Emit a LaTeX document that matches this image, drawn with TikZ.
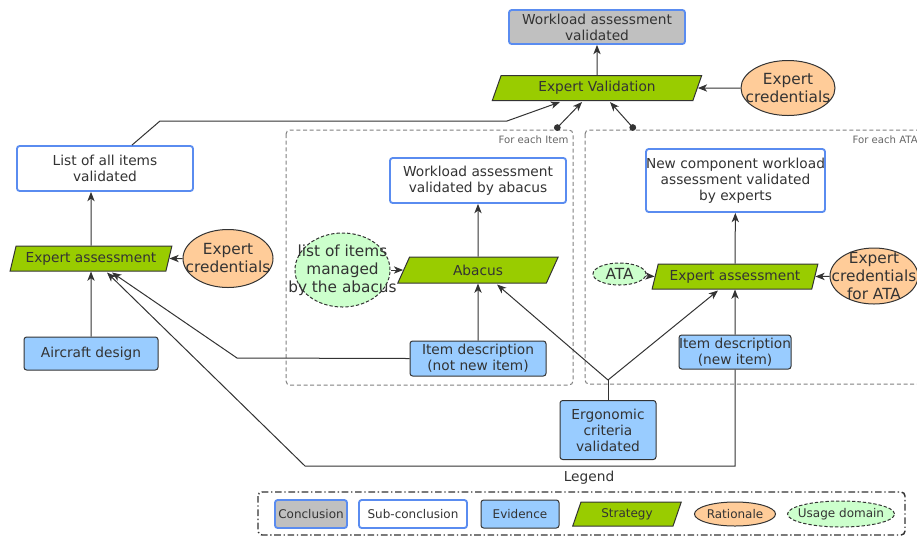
\documentclass[tikz,border=0pt]{standalone}
\usepackage{fontspec}
\setmainfont{DejaVu Sans}
\usetikzlibrary{shapes.geometric,arrows.meta,calc}
\definecolor{conclgray}{HTML}{C0C0C0}
\definecolor{bordblue}{HTML}{5A8CF0}
\definecolor{evidblue}{HTML}{99CCFF}
\definecolor{stratgreen}{HTML}{99CC00}
\definecolor{ratorange}{HTML}{FFCC99}
\definecolor{domgreen}{HTML}{CCFFCC}
\definecolor{inkgray}{HTML}{333333}

\begin{document}
\begin{tikzpicture}[x=0.75pt,y=-0.75pt,
  every node/.style={font=\fontsize{10.3}{12}\selectfont, text=inkgray, align=center},
  concl/.style={draw=bordblue, line width=1.4pt, fill=conclgray, rounded corners=2pt, inner sep=0pt},
  subconcl/.style={draw=bordblue, line width=1.4pt, fill=white, rounded corners=2pt, inner sep=0pt},
  evid/.style={draw=inkgray, line width=0.75pt, fill=evidblue, rounded corners=2pt, inner sep=0pt},
  strat/.style={trapezium, trapezium left angle=68, trapezium right angle=112, trapezium stretches=true,
    draw=inkgray, line width=0.75pt, fill=stratgreen, inner sep=0pt},
  rat/.style={ellipse, draw=inkgray, line width=0.75pt, fill=ratorange, inner sep=0pt},
  usedom/.style={ellipse, draw=inkgray, dash pattern=on 2.5pt off 1.5pt, line width=0.75pt, fill=domgreen, inner sep=0pt},
  rattext/.style={font=\fontsize{11.5}{13.5}\selectfont},
  legendtext/.style={font=\fontsize{9}{11}\selectfont},
  grouplbl/.style={font=\fontsize{7.6}{9}\selectfont, text=gray!80!black, inner sep=1pt},
  group/.style={draw=gray, dash pattern=on 3pt off 2pt, line width=0.75pt, rounded corners=3pt},
  arr/.style={draw=inkgray, line width=0.75pt, -{Stealth[length=7pt,width=5.5pt,inset=2pt]}},
  link/.style={draw=inkgray, line width=0.75pt},
  dotarr/.style={draw=inkgray, line width=0.75pt, {Circle[length=5pt]}-{Stealth[length=7pt,width=5.5pt,inset=2pt]}},
]
\useasboundingbox (0,0) rectangle (917,537);
\clip (0,0) rectangle (917,537);

% groups
\draw[group] (286,130) rectangle (573,385);
\node[grouplbl, anchor=north east] (itemlbl) at (570,134) {For each Item};
\draw[group] (585,130) rectangle (930,384);
\node[grouplbl, anchor=north west] (atalbl) at (851,134) {For each ATA};

% top
\node[concl, minimum width=132pt, minimum height=25.5pt] (concl) at (597,27) {Workload assessment\\validated};
\node[strat, minimum width=157.5pt, minimum height=18.75pt] (expval) at (597,88) {Expert Validation};
\node[rat, minimum width=70.5pt, minimum height=41.25pt,
  label={[rattext]center:Expert\\credentials}] (credval) at (788,88) {};

% left branch
\node[subconcl, minimum width=132pt, minimum height=33.75pt] (allitems) at (105,168.5) {List of all items\\validated};
\node[strat, minimum width=121.5pt, minimum height=18.75pt] (expitem) at (91,258.5) {Expert assessment};
\node[rat, minimum width=67.5pt, minimum height=43.5pt,
  label={[rattext]center:Expert\\credentials}] (creditem) at (228,258.5) {};
\node[evid, minimum width=100.5pt, minimum height=24.75pt] (aircraft) at (91,353.5) {Aircraft design};

% for each item
\node[subconcl, minimum width=132pt, minimum height=33.75pt] (abacusok) at (478,180.5) {Workload assessment\\validated by abacus};
\node[strat, minimum width=120.75pt, minimum height=19.5pt] (abacus) at (478,270) {Abacus};
\node[usedom, minimum width=71.25pt, minimum height=55.5pt,
  label={[rattext]center:list of items\\managed\\by the abacus}] (itemlist) at (342.5,270) {};
\node[evid, minimum width=102pt, minimum height=26.25pt] (itemold) at (478,358.5) {Item description\\(not new item)};

% for each ATA
\node[subconcl, minimum width=131.25pt, minimum height=47.25pt] (ataok) at (735.5,180.5) {New component workload\\assessment validated\\by experts};
\node[strat, minimum width=124.5pt, minimum height=18.75pt] (expata) at (735,276.5) {Expert assessment};
\node[usedom, minimum width=39.75pt, minimum height=16.5pt,
  label={[rattext]center:ATA}] (ata) at (619.5,274) {};
\node[rat, minimum width=66pt, minimum height=42pt,
  label={[rattext]center:Expert\\credentials\\for ATA}] (credata) at (874,276) {};
\node[evid, minimum width=82.5pt, minimum height=25.5pt] (itemnew) at (735,352) {Item description\\(new item)};

\node[evid, minimum width=72pt, minimum height=44.25pt] (ergo) at (608,430) {Ergonomic\\criteria\\validated};

% bends
\coordinate (bendA) at (160,121);
\coordinate (bendB) at (507,121);
\coordinate (dotItem) at (555,130);
\coordinate (dotAta) at (635,130);
\coordinate (bendC) at (237,358);
\coordinate (bendD) at (735,466);
\coordinate (bendE) at (305,466);
\coordinate (fork) at (608,380);

% connectors
\draw[arr] (expval) -- (concl);
\draw[arr] (credval) -- (expval.east);
\draw[arr] ($(allitems.north)+(27,0)$) -- (bendA) -- (bendB) -- ($(expval.south)+(-37,1)$);
\draw[dotarr] (dotItem) -- ($(expval.south)+(-15,1)$);
\draw[dotarr] (dotAta) -- ($(expval.south)+(13,1)$);

\draw[arr] (expitem) -- (expitem |- allitems.south);
\draw[arr] (creditem) -- (expitem.east);
\draw[arr] (aircraft) -- (expitem);
\draw[arr] (itemold.west) -- (bendC) -- ($(expitem.south)+(21,1)$);
\draw[arr] (itemnew.south) -- (bendD) -- (bendE) -- ($(expitem.south)+(16,1)$);

\draw[arr] (abacus) -- (abacusok);
\draw[arr] (itemlist) -- (abacus.west);
\draw[arr] (itemold) -- (abacus);

\draw[link] (ergo) -- (fork);
\draw[arr] (fork) -- ($(abacus.south)+(19,1)$);
\draw[arr] (fork) -- ($(expata.south)+(-17,1)$);

\draw[arr] (expata) -- (ataok);
\draw[arr] (ata) -- (expata.west);
\draw[arr] (credata) -- (expata.east);
\draw[arr] (itemnew) -- (expata);

% legend
\node (legendtitle) at (589,478) {Legend};
\draw[draw=inkgray, line width=1.1pt, dash pattern=on 5pt off 2pt on 1pt off 2pt, rounded corners=3pt] (258,492) rectangle (905,535);
\node[concl, legendtext, minimum width=54pt, minimum height=21pt] (lconcl) at (311,514) {Conclusion};
\node[subconcl, legendtext, minimum width=81pt, minimum height=21pt] (lsub) at (413,514) {Sub-conclusion};
\node[evid, legendtext, minimum width=58.5pt, minimum height=21pt] (levid) at (520,514) {Evidence};
\node[strat, legendtext, minimum width=81.75pt, minimum height=18pt] (lstrat) at (627,514) {Strategy};
\node[rat, minimum width=60.75pt, minimum height=18pt,
  label={[legendtext]center:Rationale}] (lrat) at (735,514) {};
\node[usedom, minimum width=80.25pt, minimum height=19.5pt,
  label={[legendtext]center:Usage domain}] (ldom) at (841,514) {};
\end{tikzpicture}
\end{document}
